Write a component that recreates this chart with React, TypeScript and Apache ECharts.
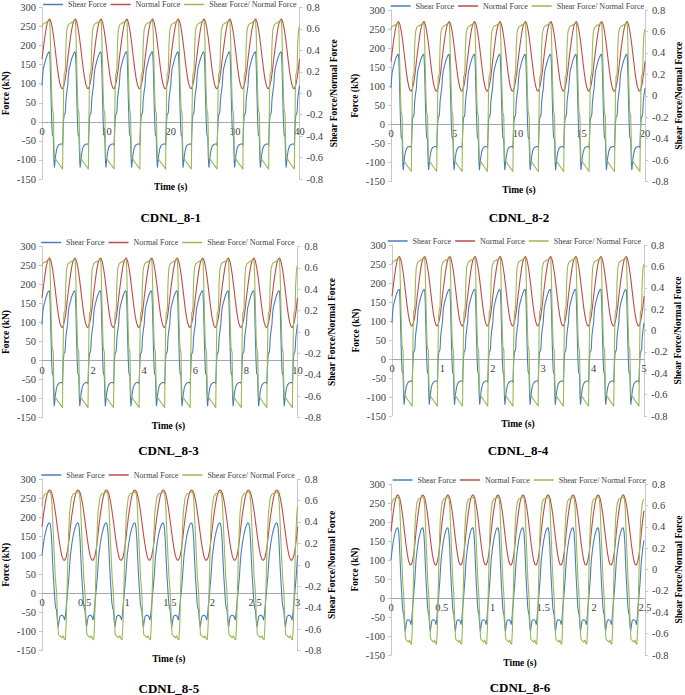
import React, { useEffect, useRef } from 'react';
import * as echarts from 'echarts';

// ---------- data ----------
const panelNames = ['CDNL_8-1', 'CDNL_8-2', 'CDNL_8-3', 'CDNL_8-4', 'CDNL_8-5', 'CDNL_8-6'];
const timeMax = [40, 20, 10, 5, 3, 2.5];
const timeInterval = [10, 5, 2, 1, 0.5, 0.5];
const cyclePeriod = [4, 2, 1, 0.5, 0.3333, 0.2465];
const cycleShape = ['sharp', 'sharp', 'sharp', 'sharp', 'smooth', 'smooth'];

const forceTicks = { min: -150, max: 300, step: 50 };
const ratioTicks = { min: -0.8, max: 0.8, step: 0.2 };

// one loading cycle, phase 0..1 (sharp = slow tests, smooth = fast tests)
const sharpNormalPhase = [0, 0.05, 0.1, 0.15, 0.2, 0.25, 0.3, 0.35, 0.4, 0.45, 0.5, 0.55, 0.6, 0.65, 0.7, 0.75, 0.8, 0.85, 0.9, 0.95];
const sharpNormalKN = [165, 192, 218, 241, 258, 267, 270, 262, 246, 224, 197, 168, 140, 116, 99, 89, 87, 95, 111, 134];

const sharpShearPhase = [0, 0.02, 0.05, 0.1, 0.15, 0.2, 0.25, 0.28, 0.3, 0.32, 0.34, 0.36, 0.38, 0.4, 0.42, 0.44, 0.46, 0.48, 0.5, 0.53, 0.57, 0.61, 0.66, 0.72, 0.78, 0.8, 0.82, 0.84, 0.86, 0.89, 0.91, 0.93, 0.96, 0.98];
const sharpShearKN = [95, 118, 138, 152, 165, 175, 182, 184, 180, 150, 95, 40, -5, -33, -36, -40, -95, -120, -108, -88, -72, -64, -60, -58, -58, -62, -25, 5, 19, 21, 28, 58, 76, 86];

const sharpRatioPhase = [0, 0.02, 0.08, 0.15, 0.22, 0.28, 0.3, 0.32, 0.34, 0.36, 0.38, 0.4, 0.42, 0.44, 0.46, 0.48, 0.5, 0.55, 0.6, 0.66, 0.72, 0.78, 0.8, 0.82, 0.84, 0.86, 0.89, 0.91, 0.93, 0.96, 0.98];
const sharpRatio = [0.62, 0.64, 0.65, 0.66, 0.67, 0.68, 0.67, 0.55, 0.35, 0.15, -0.03, -0.15, -0.17, -0.19, -0.45, -0.6, -0.61, -0.62, -0.64, -0.66, -0.68, -0.7, -0.71, -0.3, 0.04, 0.18, 0.19, 0.24, 0.45, 0.58, 0.61];

const smoothNormalPhase = [0, 0.05, 0.1, 0.15, 0.2, 0.25, 0.3, 0.35, 0.4, 0.45, 0.5, 0.55, 0.6, 0.65, 0.7, 0.75, 0.8, 0.85, 0.9, 0.95];
const smoothNormalKN = [175, 205, 230, 251, 265, 271, 270, 262, 246, 224, 197, 168, 140, 116, 98, 88, 87, 95, 112, 140];

const smoothShearPhase = [0, 0.05, 0.1, 0.15, 0.2, 0.25, 0.28, 0.31, 0.34, 0.37, 0.4, 0.43, 0.46, 0.49, 0.51, 0.54, 0.57, 0.6, 0.63, 0.68, 0.73, 0.77, 0.8, 0.83, 0.86, 0.89, 0.92, 0.95, 0.98];
const smoothShearKN = [100, 130, 152, 168, 180, 185, 184, 172, 140, 90, 45, 10, -25, -40, -42, -70, -88, -72, -60, -57, -58, -62, -70, -55, -28, -5, 20, 45, 80];

const smoothRatioPhase = [0, 0.04, 0.1, 0.2, 0.28, 0.32, 0.35, 0.38, 0.41, 0.44, 0.47, 0.5, 0.52, 0.55, 0.58, 0.62, 0.66, 0.7, 0.74, 0.78, 0.82, 0.85, 0.88, 0.91, 0.94, 0.97];
const smoothRatio = [0.55, 0.63, 0.66, 0.67, 0.68, 0.66, 0.58, 0.4, 0.22, 0.05, -0.12, -0.21, -0.3, -0.52, -0.65, -0.66, -0.67, -0.68, -0.66, -0.69, -0.7, -0.55, -0.25, 0.05, 0.3, 0.48];

const seriesNames = ['Shear Force', 'Normal Force', 'Shear Force/ Normal Force'];
const seriesColors = ['#4A7EBB', '#BE4B48', '#98B954'];

// ---------- layout ----------
const grids = [
  { left: 42, top: 7.5, width: 257.5, height: 171.5 },
  { left: 391, top: 10, width: 256, height: 171.5 },
  { left: 39.5, top: 246.5, width: 258, height: 171 },
  { left: 392, top: 245, width: 252, height: 171 },
  { left: 40, top: 479, width: 257.7, height: 171.7 },
  { left: 391, top: 484, width: 258, height: 171 },
];
const captionY = [217, 217, 450, 450, 688, 687];
const W = 685;
const H = 695;
const FONT = "'Liberation Serif', 'Times New Roman', serif";

function tile(period: number, tmax: number, phases: number[], values: number[]) {
  const pts: [number, number][] = [];
  for (let k = 0; k < 100; k++) {
    for (let j = 0; j < phases.length; j++) {
      const t = (k + phases[j]) * period;
      if (t > tmax + 1e-9) return pts;
      pts.push([+t.toFixed(5), values[j]]);
    }
  }
  return pts;
}

function buildOption() {
  const grid: any[] = [];
  const xAxis: any[] = [];
  const yAxis: any[] = [];
  const series: any[] = [];
  const legend: any[] = [];
  const graphic: any[] = [];

  panelNames.forEach((name, i) => {
    const g = grids[i];
    // the time axis sits on the zero force line
    const zeroOffset = (-forceTicks.min / (forceTicks.max - forceTicks.min)) * g.height;
    grid.push({ left: g.left, top: g.top, width: g.width, height: g.height, containLabel: false });
    xAxis.push({
      type: 'value',
      gridIndex: i,
      position: 'bottom',
      offset: -zeroOffset,
      min: 0,
      max: timeMax[i],
      interval: timeInterval[i],
      axisLine: { show: true, onZero: false, lineStyle: { color: '#a6a6a6', width: 1 } },
      axisTick: { show: false },
      axisLabel: {
        fontFamily: FONT,
        fontSize: 10.5,
        color: '#404040',
        margin: 4,
        showMinLabel: true,
        showMaxLabel: true,
      },
      splitLine: { show: false },
    });
    yAxis.push({
      type: 'value',
      gridIndex: i,
      position: 'left',
      min: forceTicks.min,
      max: forceTicks.max,
      interval: forceTicks.step,
      name: 'Force (kN)',
      nameLocation: 'middle',
      nameRotate: 90,
      nameGap: 31,
      nameTextStyle: { fontFamily: FONT, fontWeight: 'bold', fontSize: 9.5, color: '#000' },
      axisLine: { show: true, onZero: false, lineStyle: { color: '#c8c8c8' } },
      axisTick: { show: true, length: 3, lineStyle: { color: '#c8c8c8' } },
      axisLabel: { fontFamily: FONT, fontSize: 10.5, color: '#404040', margin: 6 },
      splitLine: { show: false },
    });
    yAxis.push({
      type: 'value',
      gridIndex: i,
      position: 'right',
      min: ratioTicks.min,
      max: ratioTicks.max,
      interval: ratioTicks.step,
      name: 'Shear Force/Normal Force',
      nameLocation: 'middle',
      nameRotate: 90,
      nameGap: 29,
      nameTextStyle: { fontFamily: FONT, fontWeight: 'bold', fontSize: 9.5, color: '#000' },
      axisLine: { show: true, onZero: false, lineStyle: { color: '#c8c8c8' } },
      axisTick: { show: true, length: 3, lineStyle: { color: '#c8c8c8' } },
      axisLabel: {
        fontFamily: FONT,
        fontSize: 10.5,
        color: '#404040',
        margin: 7,
        formatter: (v: number) => String(+v.toFixed(1)),
      },
      splitLine: { show: false },
    });

    const sharp = cycleShape[i] === 'sharp';
    const p = cyclePeriod[i];
    const tm = timeMax[i];
    const shear = sharp ? tile(p, tm, sharpShearPhase, sharpShearKN) : tile(p, tm, smoothShearPhase, smoothShearKN);
    const normal = sharp ? tile(p, tm, sharpNormalPhase, sharpNormalKN) : tile(p, tm, smoothNormalPhase, smoothNormalKN);
    const ratio = sharp ? tile(p, tm, sharpRatioPhase, sharpRatio) : tile(p, tm, smoothRatioPhase, smoothRatio);
    const datas = [shear, normal, ratio];
    datas.forEach((d, s) => {
      series.push({
        type: 'line',
        name: seriesNames[s],
        xAxisIndex: i,
        yAxisIndex: s === 2 ? 2 * i + 1 : 2 * i,
        data: d,
        showSymbol: false,
        symbol: 'none',
        clip: true,
        smooth: false,
        lineStyle: { color: seriesColors[s], width: 1.1 },
        itemStyle: { color: seriesColors[s] },
      });
    });

    legend.push({
      data: seriesNames,
      right: W - (g.left + g.width) + 3,
      top: Math.max(0.5, g.top - 8),
      orient: 'horizontal',
      icon: 'rect',
      itemWidth: 20,
      itemHeight: 1.5,
      itemGap: 4,
      padding: 0,
      selectedMode: false,
      textStyle: { fontFamily: FONT, fontSize: 8, color: '#404040' },
    });

    graphic.push({
      type: 'text',
      x: g.left + g.width / 2,
      y: g.top + g.height + 8,
      style: {
        text: 'Time (s)',
        font: `bold 9.5px ${FONT}`,
        fill: '#000',
        align: 'center',
        verticalAlign: 'middle',
        textAlign: 'center',
        textVerticalAlign: 'middle',
      },
    });
    graphic.push({
      type: 'text',
      x: g.left + g.width / 2,
      y: captionY[i],
      style: {
        text: name,
        font: `bold 13px ${FONT}`,
        fill: '#000',
        align: 'center',
        verticalAlign: 'middle',
        textAlign: 'center',
        textVerticalAlign: 'middle',
      },
    });
  });

  return {
    animation: false,
    backgroundColor: '#ffffff',
    grid,
    xAxis,
    yAxis,
    series,
    legend,
    graphic,
  };
}

export default function App() {
  const ref = useRef<HTMLDivElement>(null);
  useEffect(() => {
    if (!ref.current) return;
    const chart = echarts.init(ref.current, undefined, { renderer: 'svg', width: W, height: H });
    chart.setOption(buildOption());
    return () => chart.dispose();
  }, []);
  return <div ref={ref} style={{ position: 'absolute', left: 0, top: 0, width: W, height: H }} />;
}
